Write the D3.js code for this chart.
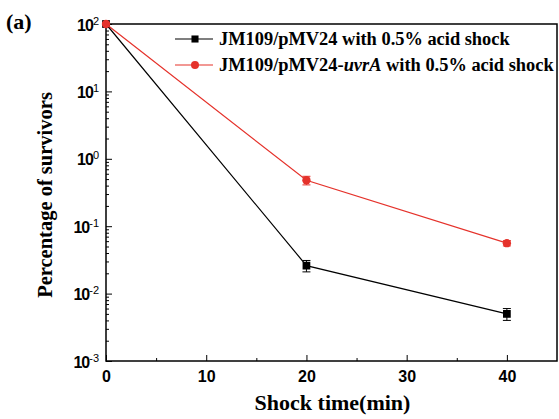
<!DOCTYPE html>
<html>
<head>
<meta charset="utf-8">
<script src="https://cdn.jsdelivr.net/npm/d3@7"></script>
<style>
  body { margin: 0; background: #fff; }
</style>
</head>
<body>
<svg id="chart"></svg>
<script>
// データ
const times = [0, 20, 40];
const blackValues = [100, 0.026, 0.005];
const blackErrors = [0, 0.005, 0.001];
const redValues = [100, 0.48, 0.056];
const redErrors = [0, 0.07, 0.005];
const xTicks = [0, 10, 20, 30, 40];
const yTicks = [1e-3, 1e-2, 1e-1, 1, 10, 100];
const legendLabels = ["JM109/pMV24 with 0.5% acid shock", "JM109/pMV24-uvrA with 0.5% acid shock"];

const size = { width: 559, height: 419 };
const margin = { top: 24, right: 2, bottom: 58, left: 106 };
const width = size.width - margin.left - margin.right;
const height = size.height - margin.top - margin.bottom;

const red = "#e5322b";

const svg = d3.select("#chart")
  .attr("width", size.width)
  .attr("height", size.height);

const g = svg.append("g")
  .attr("transform", "translate(" + margin.left + "," + margin.top + ")");

const x = d3.scaleLinear().domain([0, 45]).range([0, width]);
const y = d3.scaleLog().domain([1e-3, 100]).range([height, 0]);

// 枠
g.append("rect")
  .attr("width", width).attr("height", height)
  .attr("fill", "none").attr("stroke", "#000").attr("stroke-width", 1.5);

// x 軸
const xAxis = g.append("g")
  .attr("transform", "translate(0," + height + ")")
  .call(d3.axisBottom(x).tickValues(xTicks).tickSize(-6).tickPadding(10).tickFormat(d3.format("d")));
xAxis.select(".domain").remove();
xAxis.selectAll("text")
  .attr("font-family", "Liberation Sans, Arial, sans-serif")
  .attr("font-weight", "bold").attr("font-size", 16);
g.append("g")
  .attr("transform", "translate(0," + height + ")")
  .call(d3.axisBottom(x).tickValues([5, 15, 25, 35]).tickSize(-3).tickFormat(""))
  .select(".domain").remove();

// y 軸
const yAxis = g.append("g")
  .call(d3.axisLeft(y).tickValues(yTicks).tickSize(-6).tickPadding(8).tickFormat(""));
yAxis.select(".domain").remove();
yAxis.selectAll(".tick").append("text")
  .attr("x", -7).attr("dy", "0.38em")
  .attr("text-anchor", "end")
  .attr("fill", "#000")
  .attr("font-family", "Liberation Sans, Arial, sans-serif")
  .attr("font-weight", "bold").attr("font-size", 16)
  .each(function(d) {
    const t = d3.select(this);
    t.append("tspan").attr("letter-spacing", -1).text("10");
    t.append("tspan").attr("dy", "-0.55em").attr("font-size", 11)
      .attr("font-weight", "normal")
      .text(Math.round(Math.log10(d)));
  });

const minorY = [];
for (let e = -3; e < 2; e++) {
  for (let m = 2; m < 10; m++) minorY.push(m * Math.pow(10, e));
}
g.append("g")
  .call(d3.axisLeft(y).tickValues(minorY).tickSize(-3).tickFormat(""))
  .select(".domain").remove();

// 軸タイトル
svg.append("text")
  .attr("x", margin.left + x(22.5) + 1).attr("y", 410)
  .attr("text-anchor", "middle")
  .attr("font-family", "Liberation Serif, Times New Roman, serif")
  .attr("font-weight", "bold").attr("font-size", 22)
  .text("Shock time(min)");

svg.append("text")
  .attr("transform", "translate(52,195) rotate(-90)")
  .attr("text-anchor", "middle")
  .attr("font-family", "Liberation Serif, Times New Roman, serif")
  .attr("font-weight", "bold").attr("font-size", 20.5)
  .text("Percentage of survivors");

svg.append("text")
  .attr("x", 6).attr("y", 29)
  .attr("font-family", "Liberation Serif, Times New Roman, serif")
  .attr("font-weight", "bold").attr("font-size", 22)
  .text("(a)");

// 系列
const line = d3.line().x(d => x(d[0])).y(d => y(d[1]));

function drawSeries(values, errors, color, shape) {
  const pts = times.map((t, i) => [t, values[i], errors[i]]);
  g.append("path").datum(pts)
    .attr("d", line).attr("fill", "none")
    .attr("stroke", color).attr("stroke-width", 1.2);

  const eb = g.append("g").selectAll("g").data(pts.filter(d => d[2] > 0)).join("g")
    .attr("stroke", color).attr("stroke-width", 1);
  eb.append("line")
    .attr("x1", d => x(d[0])).attr("x2", d => x(d[0]))
    .attr("y1", d => y(d[1] + d[2])).attr("y2", d => y(d[1] - d[2]));
  eb.append("line")
    .attr("x1", d => x(d[0]) - 4).attr("x2", d => x(d[0]) + 4)
    .attr("y1", d => y(d[1] + d[2])).attr("y2", d => y(d[1] + d[2]));
  eb.append("line")
    .attr("x1", d => x(d[0]) - 4).attr("x2", d => x(d[0]) + 4)
    .attr("y1", d => y(d[1] - d[2])).attr("y2", d => y(d[1] - d[2]));

  g.append("g").selectAll("path").data(pts).join("path")
    .attr("transform", d => "translate(" + x(d[0]) + "," + y(d[1]) + ")")
    .attr("d", d3.symbol().type(shape).size(shape === d3.symbolSquare ? 60 : 55))
    .attr("fill", color);
}

drawSeries(blackValues, blackErrors, "#000", d3.symbolSquare);
drawSeries(redValues, redErrors, red, d3.symbolCircle);

// 凡例
const legend = svg.append("g");
const legendItems = [
  { color: "#000", shape: d3.symbolSquare, label: legendLabels[0] },
  { color: red, shape: d3.symbolCircle, label: legendLabels[1] }
];
legendItems.forEach((item, i) => {
  const ly = 39 + i * 26;
  legend.append("line")
    .attr("x1", 175).attr("x2", 213).attr("y1", ly).attr("y2", ly)
    .attr("stroke", item.color).attr("stroke-width", 1.2);
  legend.append("path")
    .attr("transform", "translate(195," + ly + ")")
    .attr("d", d3.symbol().type(item.shape).size(50))
    .attr("fill", item.color);
  const t = legend.append("text")
    .attr("x", 219).attr("y", ly + 5.5)
    .attr("font-family", "Liberation Serif, Times New Roman, serif")
    .attr("font-weight", "bold").attr("font-size", 18.4);
  if (i === 0) {
    t.text(item.label);
  } else {
    t.append("tspan").text("JM109/pMV24-");
    t.append("tspan").attr("font-style", "italic").text("uvrA");
    t.append("tspan").text(" with 0.5% acid shock");
  }
});
</script>
</body>
</html>
